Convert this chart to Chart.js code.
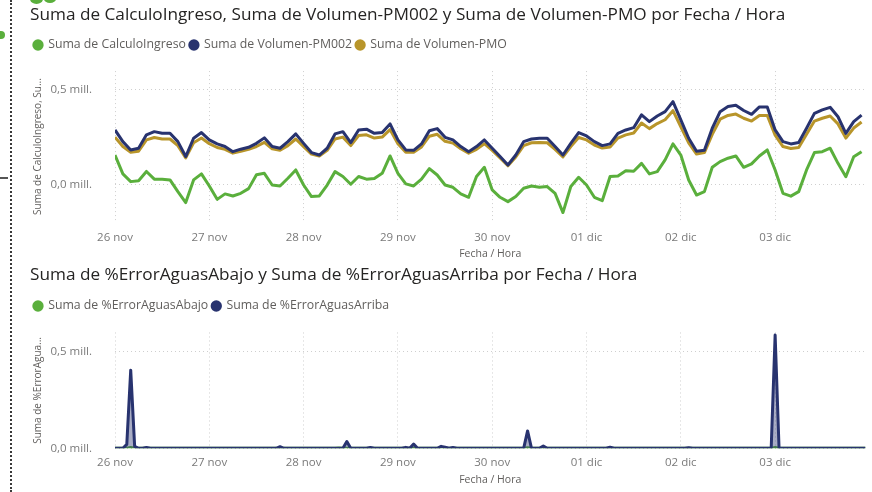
<!DOCTYPE html>
<html lang="es">
<head>
<meta charset="UTF-8">
<title>Ingreso y volumen por Fecha / Hora</title>
<script src="https://cdn.jsdelivr.net/npm/chart.js@4.4.0/dist/chart.umd.min.js"></script>
<style>
  body { margin: 0; width: 872px; height: 492px; background: #fff; position: relative; overflow: hidden; }
  canvas { position: absolute; left: 30px; }
  .borde { position: absolute; left: 10px; top: 0; height: 492px; border-left: 2px dotted #3a3a3a; }
  .marca { position: absolute; left: 0; top: 177px; width: 8px; height: 2px; background: #555; }
  .hoja { position: absolute; background: #5aaf3c; border-radius: 50%; }
</style>
</head>
<body>
<div class="borde"></div>
<div class="marca"></div>
<div class="hoja" style="left:30px;top:-6px;width:13px;height:10px"></div>
<div class="hoja" style="left:44px;top:-5px;width:12px;height:8px"></div>
<div class="hoja" style="left:-3px;top:31px;width:8px;height:8px"></div>

<canvas id="grafico1" width="842" height="262" style="top:0"></canvas>
<canvas id="grafico2" width="842" height="230" style="top:262px"></canvas>

<script>
    // ejes
    const dias = ['26 nov', '27 nov', '28 nov', '29 nov', '30 nov', '01 dic', '02 dic', '03 dic'];
    const valoresY = [0, 0.5];
    const etiquetasY = ['0,0 mill.', '0,5 mill.'];
    const pasoArriba = 2;  // horas entre puntos, gráfico de arriba
    const pasoAbajo = 1;   // horas entre puntos, gráfico de abajo

    // valores en millones, cada 2 horas desde 26 nov 00:00
    const calculoIngreso = [
        0.155, 0.055, 0.014, 0.019, 0.068, 0.027, 0.027, 0.023, -0.039, -0.097, 0.023, 0.055,
        -0.009, -0.080, -0.051, -0.062, -0.048, -0.023, 0.051, 0.058, -0.004, -0.009, 0.032, 0.076,
        -0.004, -0.065, -0.062, -0.004, 0.067, 0.041, 0.000, 0.041, 0.027, 0.030, 0.058, 0.150,
        0.058, 0.002, -0.009, 0.027, 0.083, 0.049, -0.004, -0.016, -0.051, -0.069, 0.041, 0.090,
        -0.030, -0.069, -0.092, -0.065, -0.021, -0.009, -0.016, -0.012, -0.048, -0.150, -0.012, 0.037,
        -0.004, -0.069, -0.087, 0.041, 0.044, 0.072, 0.069, 0.111, 0.055, 0.067, 0.129, 0.214,
        0.155, 0.023, -0.057, -0.039, 0.090, 0.120, 0.138, 0.150, 0.090, 0.108, 0.150, 0.182,
        0.076, -0.048, -0.063, -0.039, 0.076, 0.168, 0.173, 0.191, 0.111, 0.040, 0.146, 0.173
    ];
    const volumenPM002 = [
        0.288, 0.226, 0.182, 0.191, 0.262, 0.279, 0.270, 0.270, 0.226, 0.147, 0.244, 0.274,
        0.235, 0.214, 0.200, 0.173, 0.186, 0.196, 0.217, 0.246, 0.200, 0.191, 0.226, 0.267,
        0.217, 0.168, 0.155, 0.191, 0.267, 0.279, 0.221, 0.288, 0.292, 0.270, 0.274, 0.320,
        0.235, 0.182, 0.180, 0.214, 0.284, 0.295, 0.249, 0.235, 0.200, 0.173, 0.200, 0.235,
        0.191, 0.147, 0.102, 0.155, 0.226, 0.240, 0.244, 0.244, 0.200, 0.155, 0.217, 0.274,
        0.256, 0.226, 0.205, 0.214, 0.270, 0.288, 0.300, 0.368, 0.332, 0.362, 0.385, 0.438,
        0.341, 0.244, 0.175, 0.180, 0.297, 0.385, 0.412, 0.419, 0.391, 0.371, 0.410, 0.410,
        0.288, 0.226, 0.214, 0.221, 0.297, 0.376, 0.394, 0.408, 0.358, 0.270, 0.332, 0.367
    ];
    const volumenPMO = [
        0.250, 0.200, 0.170, 0.175, 0.235, 0.248, 0.240, 0.240, 0.205, 0.140, 0.220, 0.245,
        0.215, 0.195, 0.185, 0.165, 0.175, 0.185, 0.200, 0.222, 0.188, 0.180, 0.205, 0.240,
        0.200, 0.160, 0.150, 0.180, 0.240, 0.250, 0.205, 0.258, 0.262, 0.245, 0.250, 0.290,
        0.215, 0.170, 0.170, 0.198, 0.255, 0.265, 0.228, 0.218, 0.188, 0.165, 0.185, 0.215,
        0.180, 0.140, 0.098, 0.145, 0.205, 0.220, 0.222, 0.220, 0.185, 0.145, 0.200, 0.248,
        0.235, 0.208, 0.192, 0.198, 0.245, 0.262, 0.272, 0.325, 0.295, 0.322, 0.342, 0.390,
        0.305, 0.220, 0.160, 0.168, 0.265, 0.345, 0.365, 0.372, 0.350, 0.335, 0.365, 0.365,
        0.260, 0.200, 0.190, 0.195, 0.265, 0.335, 0.350, 0.362, 0.320, 0.245, 0.298, 0.330
    ];

    // valores en millones, cada hora (una fila por día)
    const errorAguasAbajo = [
        0, 0, 0, 0, 0.004, 0, 0, 0, 0, 0, 0, 0, 0, 0, 0, 0, 0, 0, 0, 0, 0, 0, 0, 0,
        0, 0, 0, 0, 0, 0, 0, 0, 0, 0, 0, 0, 0, 0, 0, 0, 0, 0, 0, 0, 0, 0, 0, 0,
        0, 0, 0, 0, 0, 0, 0, 0, 0, 0.002, 0, 0, 0, 0, 0, 0, 0, 0, 0, 0, 0, 0, 0, 0,
        0, 0, 0, 0, 0.002, 0, 0, 0, 0, 0, 0, 0, 0, 0, 0, 0, 0, 0, 0, 0, 0, 0, 0, 0,
        0, 0, 0, 0, 0, 0, 0, 0, 0, 0.003, 0, 0, 0, 0, 0, 0, 0, 0, 0, 0, 0, 0, 0, 0,
        0, 0, 0, 0, 0, 0, 0, 0, 0, 0, 0, 0, 0, 0, 0, 0, 0, 0, 0, 0, 0, 0, 0, 0,
        0, 0, 0, 0, 0, 0, 0, 0, 0, 0, 0, 0, 0, 0, 0, 0, 0, 0, 0, 0, 0, 0, 0, 0,
        0.004, 0, 0, 0, 0, 0, 0, 0, 0, 0, 0, 0, 0, 0, 0, 0, 0, 0, 0, 0, 0, 0, 0, 0
    ];
    const errorAguasArriba = [
        0, 0, 0, 0.02, 0.405, 0.01, 0, 0, 0.004, 0, 0, 0, 0, 0, 0, 0, 0, 0, 0, 0, 0, 0, 0, 0,
        0, 0, 0, 0, 0, 0, 0, 0, 0, 0, 0, 0, 0, 0, 0, 0, 0, 0, 0.008, 0, 0, 0, 0, 0,
        0, 0, 0, 0, 0, 0, 0, 0, 0, 0, 0, 0.035, 0, 0, 0, 0, 0, 0.004, 0, 0, 0, 0, 0, 0,
        0, 0, 0.005, 0, 0.022, 0, 0, 0, 0, 0, 0, 0.01, 0.006, 0, 0.004, 0, 0, 0, 0, 0, 0, 0, 0, 0,
        0, 0, 0, 0, 0, 0, 0, 0, 0, 0.09, 0, 0, 0, 0.012, 0, 0, 0, 0, 0, 0, 0, 0, 0, 0,
        0, 0, 0, 0, 0, 0, 0.006, 0, 0, 0, 0, 0, 0, 0, 0, 0, 0, 0, 0, 0, 0, 0, 0, 0,
        0, 0, 0.003, 0, 0, 0, 0, 0, 0, 0, 0, 0, 0, 0, 0, 0, 0, 0, 0, 0, 0, 0, 0, 0,
        0.587, 0, 0, 0, 0, 0, 0, 0, 0, 0, 0, 0, 0, 0, 0, 0, 0, 0, 0, 0, 0, 0, 0, 0
    ];

    const verde = '#5aaf3c';
    const azul = '#28336f';
    const dorado = '#b8952a';
    const rejilla = '#cfcfcf';

    Chart.defaults.font.family = "'Open Sans', sans-serif";

    function puntos(valores, paso) {
        return valores.map((v, i) => ({ x: i * paso, y: v }));
    }

    // deja hueco entre la leyenda y el área del gráfico
    function espacioLeyenda(extra) {
        return {
            id: 'espacioLeyenda',
            beforeInit(chart) {
                const fitOriginal = chart.legend.fit;
                chart.legend.fit = function () {
                    fitOriginal.call(this);
                    this.height += extra;
                };
            }
        };
    }

    function opciones(c) {
        return {
            responsive: false,
            animation: false,
            layout: { padding: { left: 0, right: 6.5, top: 0, bottom: 0 } },
            plugins: {
                title: {
                    display: true,
                    text: c.titulo,
                    align: 'start',
                    color: '#252423',
                    font: { size: 17.2, weight: 'normal' },
                    padding: c.tituloPad
                },
                legend: {
                    align: 'start',
                    labels: {
                        usePointStyle: true,
                        pointStyle: 'circle',
                        boxWidth: 8,
                        boxHeight: 8,
                        padding: 4,
                        color: '#605e5c',
                        font: { size: 12.3 },
                        sort: (a, b) => a.datasetIndex - b.datasetIndex,
                        generateLabels: chart =>
                            Chart.defaults.plugins.legend.labels.generateLabels(chart).map(l => ({
                                ...l, fillStyle: l.strokeStyle, lineWidth: 0
                            }))
                    }
                },
                tooltip: { enabled: false }
            },
            scales: {
                x: {
                    type: 'linear',
                    min: 0,
                    max: 191,
                    afterBuildTicks: s => { s.ticks = dias.map((d, i) => ({ value: i * 24 })); },
                    afterFit: s => { s.height = c.alturaX; },
                    grid: { color: rejilla, drawTicks: false },
                    border: { display: false, dash: [1, 3] },
                    ticks: {
                        padding: c.padTicksX,
                        color: '#7a7a7a',
                        font: { size: 11.5 },
                        maxRotation: 0,
                        autoSkip: false,
                        callback: v => dias[v / 24]
                    },
                    title: {
                        display: true,
                        text: 'Fecha / Hora',
                        color: '#605e5c',
                        font: { size: 10.5 },
                        padding: { top: 0, bottom: c.padTituloX }
                    }
                },
                y: {
                    min: c.yMin,
                    max: c.yMax,
                    afterBuildTicks: s => { s.ticks = valoresY.map(v => ({ value: v })); },
                    afterFit: s => { s.width = 85; },
                    grid: { color: rejilla, drawTicks: false },
                    border: { display: false, dash: [1, 3] },
                    ticks: {
                        padding: 23,
                        color: '#7a7a7a',
                        font: { size: 11.5 },
                        callback: v => etiquetasY[valoresY.indexOf(v)]
                    },
                    title: {
                        display: true,
                        text: c.tituloY,
                        color: '#605e5c',
                        font: { size: 10 },
                        padding: { top: 2, bottom: 0 }
                    }
                }
            }
        };
    }

    function linea(label, valores, paso, color, orden, relleno) {
        return {
            label: label,
            data: puntos(valores, paso),
            borderColor: color,
            backgroundColor: relleno || color,
            fill: relleno ? 'origin' : false,
            borderWidth: 3,
            borderJoinStyle: 'round',
            pointRadius: 0,
            tension: 0,
            order: orden
        };
    }

    new Chart(document.getElementById('grafico1'), {
        type: 'line',
        data: {
            datasets: [
                linea('Suma de CalculoIngreso', calculoIngreso, pasoArriba, verde, 2),
                linea('Suma de Volumen-PM002', volumenPM002, pasoArriba, azul, 0),
                linea('Suma de Volumen-PMO', volumenPMO, pasoArriba, dorado, 1)
            ]
        },
        options: opciones({
            titulo: 'Suma de CalculoIngreso, Suma de Volumen-PM002 y Suma de Volumen-PMO por Fecha / Hora',
            tituloPad: { top: 4.7, bottom: 9.5 },
            tituloY: 'Suma de CalculoIngreso, Su...',
            yMin: -0.2,
            yMax: 0.6,
            alturaX: 40,
            padTicksX: 9,
            padTituloX: 1.7
        }),
        plugins: [espacioLeyenda(9.95)]
    });

    new Chart(document.getElementById('grafico2'), {
        type: 'line',
        data: {
            datasets: [
                linea('Suma de %ErrorAguasAbajo', errorAguasAbajo, pasoAbajo, verde, 1, 'rgba(90,175,60,0.35)'),
                linea('Suma de %ErrorAguasArriba', errorAguasArriba, pasoAbajo, azul, 0, 'rgba(40,51,111,0.4)')
            ]
        },
        options: opciones({
            titulo: 'Suma de %ErrorAguasAbajo y Suma de %ErrorAguasArriba por Fecha / Hora',
            tituloPad: { top: 2.7, bottom: 10.5 },
            tituloY: 'Suma de %ErrorAgua...',
            yMin: 0,
            yMax: 0.6,
            alturaX: 43.7,
            padTicksX: 8,
            padTituloX: 5.7
        }),
        plugins: [espacioLeyenda(10.35)]
    });
</script>
</body>
</html>
